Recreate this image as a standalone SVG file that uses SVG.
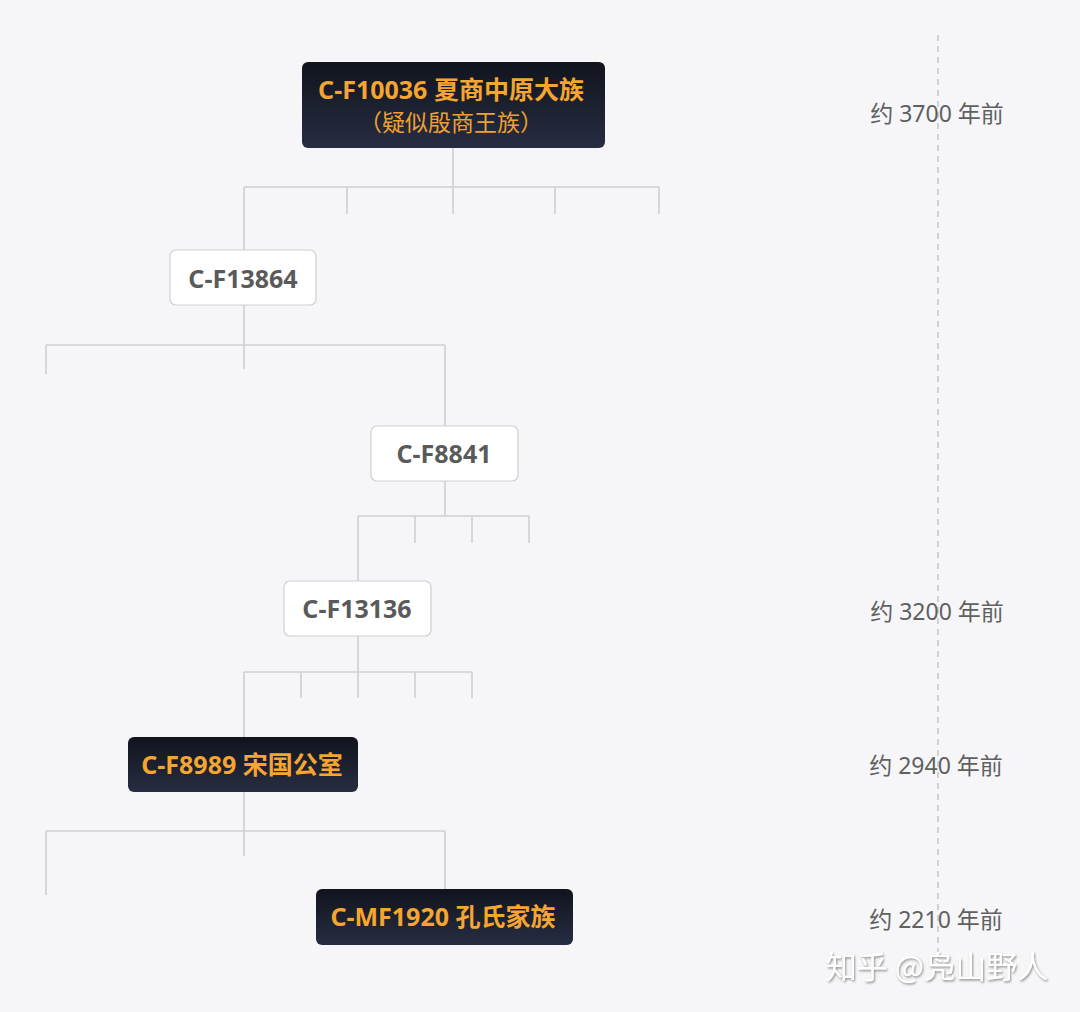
<svg xmlns="http://www.w3.org/2000/svg" width="1080" height="1012" viewBox="0 0 1080 1012">
<defs>
<linearGradient id="dark" x1="0" y1="0" x2="0" y2="1">
<stop offset="0" stop-color="#11141d"/>
<stop offset="1" stop-color="#272d42"/>
</linearGradient>
<filter id="wm" x="-5%" y="-20%" width="110%" height="140%">
<feDropShadow dx="1" dy="1.5" stdDeviation="0.8" flood-color="#7a7a7a" flood-opacity="0.85"/>
</filter>
<style>
.dk{fill:url(#dark);}
.lt{fill:#ffffff;stroke:#cfcfd3;stroke-width:1.2;}
.t{font-family:"Noto Sans","Noto Sans CJK SC",sans-serif;text-anchor:middle;}
.or{fill:#f5a530;font-weight:bold;font-size:25px;}
.or2{fill:#f0a030;font-size:23px;font-family:"Noto Sans CJK SC","Noto Sans",sans-serif;}
.gr{fill:#5a5a5a;font-weight:bold;font-size:25px;}
.tm{fill:#606060;font-size:23px;font-family:"Noto Sans","Noto Sans CJK SC",sans-serif;text-anchor:middle;}
.ln{stroke:#cfcfd4;stroke-width:1.6;fill:none;}
</style>
</defs>
<rect width="1080" height="1012" fill="#f6f6f8"/>
<line x1="938" y1="35" x2="938" y2="952" stroke="#bdbdc2" stroke-width="1.3" stroke-dasharray="6 5"/>
<g id="connectors" class="ln">
<path d="M453 148V187M244 187H659M244 187V250M347 187V214M453 187V214M555 187V214M659 187V214"/>
<path d="M244 305V345M46 345H445M46 345V374M244 345V369M445 345V426"/>
<path d="M445 481V516M358 516H529M358 516V581M415 516V543M472 516V543M529 516V543"/>
<path d="M358 636V672M244 672H472M244 672V737M301 672V698M358 672V698M415 672V698M472 672V698"/>
<path d="M244 792V831M46 831H445M46 831V895M244 831V856M445 831V889"/>
</g>
<g id="node-cf10036">
<rect class="dk" x="302" y="62" width="303" height="86" rx="6"/>
<text class="t or" x="451" y="99">C-F10036 夏商中原大族</text>
<text class="t or2" x="451" y="131">（疑似殷商王族）</text>
</g>
<g id="node-cf13864">
<rect class="lt" x="170" y="250" width="146" height="55" rx="6"/>
<text class="t gr" x="243" y="288">C-F13864</text>
</g>
<g id="node-cf8841">
<rect class="lt" x="371" y="426" width="147" height="55" rx="6"/>
<text class="t gr" x="444" y="463">C-F8841</text>
</g>
<g id="node-cf13136">
<rect class="lt" x="284" y="581" width="147" height="55" rx="6"/>
<text class="t gr" x="357" y="618">C-F13136</text>
</g>
<g id="node-cf8989">
<rect class="dk" x="128" y="737" width="230" height="55" rx="6"/>
<text class="t or" x="242" y="774">C-F8989 宋国公室</text>
</g>
<g id="node-cmf1920">
<rect class="dk" x="316" y="889" width="257" height="56" rx="6"/>
<text class="t or" x="443" y="926">C-MF1920 孔氏家族</text>
</g>
<g id="timeline">
<text class="tm" x="937" y="122">约 3700 年前</text>
<text class="tm" x="937" y="620">约 3200 年前</text>
<text class="tm" x="936" y="774">约 2940 年前</text>
<text class="tm" x="936" y="928">约 2210 年前</text>
</g>
<text x="937" y="978" filter="url(#wm)" fill="#ffffff" font-size="31" font-family="Noto Sans CJK SC, sans-serif" text-anchor="middle">知乎 @凫山野人</text>
</svg>
